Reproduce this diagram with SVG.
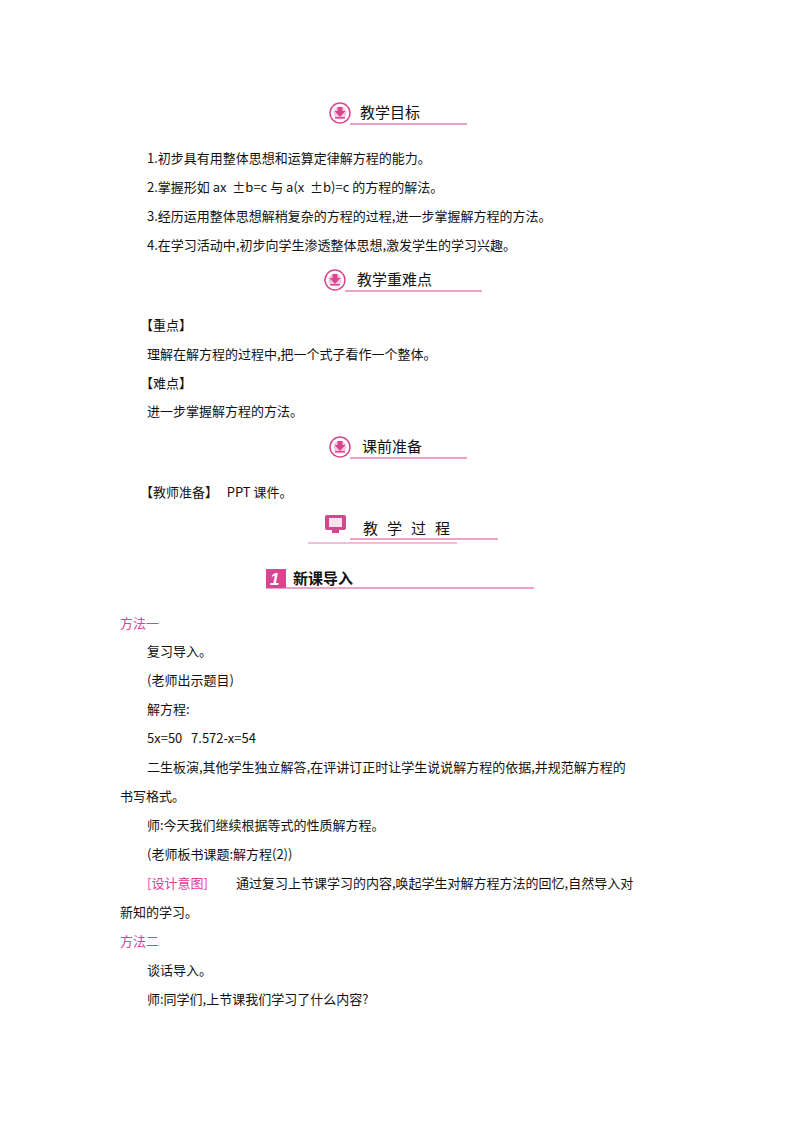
<svg xmlns="http://www.w3.org/2000/svg" width="800" height="1132" viewBox="0 0 800 1132" xml:space="preserve">
<style>
.t{font-family:"Noto Sans CJK SC","Liberation Serif",serif;font-size:13px;fill:#111;white-space:pre}
.h{font-family:"Noto Sans CJK SC",sans-serif;font-size:15px;fill:#111}
.p{font-family:"Noto Sans CJK SC",sans-serif;font-size:13px;fill:#e0409a}
.l{stroke:#d9468f;stroke-width:1.2}
</style>
<rect width="800" height="1132" fill="#fff"/>
<defs>
<g id="ic"><circle r="10" fill="#fff" stroke="#d9468f" stroke-width="1.5"/><circle r="6.5" fill="#f6c7df"/><path d="M-2.5,-6h5v4h3l-5.5,6l-5.5,-6h3z" fill="#d9468f"/><rect x="-5" y="4" width="10" height="1.5" fill="#d9468f"/></g>
</defs>
<g id="h1"><use href="#ic" x="340" y="113"/><text class="h" x="360" y="118">教学目标</text><line class="l" x1="350" y1="124" x2="467" y2="124"/></g>
<g id="h2"><use href="#ic" x="335" y="280"/><text class="h" x="357" y="285">教学重难点</text><line class="l" x1="345" y1="291" x2="482" y2="291"/></g>
<g id="h3"><use href="#ic" x="340" y="447"/><text class="h" x="362" y="452">课前准备</text><line class="l" x1="350" y1="458" x2="467" y2="458"/></g>
<g id="h4"><rect x="325" y="515" width="21" height="15" rx="2" fill="#d9468f"/><rect x="329" y="518" width="13" height="9" fill="#fbe0ee"/><rect x="332" y="530" width="7" height="3" fill="#d9468f"/><text class="h" x="363" y="534" font-size="21" letter-spacing="9">教学过程</text><line class="l" x1="350" y1="539" x2="498" y2="539"/><line class="l" x1="308" y1="543" x2="457" y2="543" stroke-width="2" opacity="0.7"/></g>
<g id="h5"><rect x="266" y="569" width="20" height="19" fill="#d9468f"/><text x="270" y="585" font-family="Liberation Sans,sans-serif" font-weight="bold" font-style="italic" font-size="17" fill="#fff">1</text><text class="h" x="293" y="584" font-weight="bold">新课导入</text><line class="l" x1="266" y1="588" x2="534" y2="588"/></g>
<text class="t" x="147" y="163">1.初步具有用整体思想和运算定律解方程的能力。</text>
<text class="t" x="147" y="192">2.掌握形如 ax  ±b=c 与 a(x  ±b)=c 的方程的解法。</text>
<text class="t" x="147" y="221">3.经历运用整体思想解稍复杂的方程的过程,进一步掌握解方程的方法。</text>
<text class="t" x="147" y="250">4.在学习活动中,初步向学生渗透整体思想,激发学生的学习兴趣。</text>
<text class="t" x="140" y="330">【重点】</text>
<text class="t" x="147" y="359">理解在解方程的过程中,把一个式子看作一个整体。</text>
<text class="t" x="140" y="388">【难点】</text>
<text class="t" x="147" y="416">进一步掌握解方程的方法。</text>
<text class="t" x="140" y="497">【教师准备】   PPT 课件。</text>
<text class="p" x="120" y="628">方法一</text>
<text class="t" x="147" y="656">复习导入。</text>
<text class="t" x="147" y="685">(老师出示题目)</text>
<text class="t" x="147" y="714">解方程:</text>
<text class="t" x="147" y="743">5x=50   7.572-x=54</text>
<text class="t" x="147" y="772">二生板演,其他学生独立解答,在评讲订正时让学生说说解方程的依据,并规范解方程的</text>
<text class="t" x="120" y="801">书写格式。</text>
<text class="t" x="147" y="830">师:今天我们继续根据等式的性质解方程。</text>
<text class="t" x="147" y="859">(老师板书课题:解方程(2))</text>
<text class="p" x="147" y="888">[设计意图]</text><text class="t" x="236" y="888">通过复习上节课学习的内容,唤起学生对解方程方法的回忆,自然导入对</text>
<text class="t" x="120" y="917">新知的学习。</text>
<text class="p" x="120" y="946">方法二</text>
<text class="t" x="147" y="975">谈话导入。</text>
<text class="t" x="147" y="1004">师:同学们,上节课我们学习了什么内容?</text>
</svg>
